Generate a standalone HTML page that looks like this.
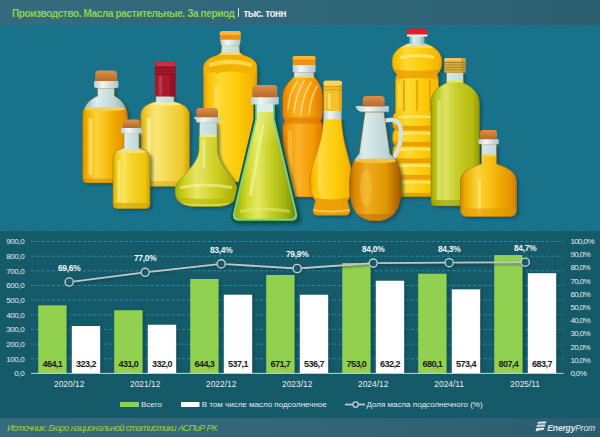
<!DOCTYPE html>
<html><head><meta charset="utf-8">
<style>
html,body{margin:0;padding:0;}
body{width:600px;height:437px;overflow:hidden;position:relative;font-family:"Liberation Sans",sans-serif;
background-color:#1a738c;
}
#hdr{position:absolute;left:0;top:0;width:600px;height:25px;background:linear-gradient(90deg,#346c7d,#2f6677 60%,#2a5f70);}
#hdr .t{position:absolute;left:12px;top:8px;font-size:10px;font-weight:bold;color:#8fd14f;letter-spacing:-0.38px;white-space:nowrap;}
#hdr .bar{position:absolute;left:238.3px;top:8.3px;width:1.2px;height:9.2px;background:#d4dee2;}
#hdr .u{position:absolute;left:243.5px;top:8px;font-size:10px;font-weight:bold;color:#e9eef0;letter-spacing:-0.55px;white-space:nowrap;}
#panel{position:absolute;left:0;top:231px;width:600px;height:187px;background:#155a69;}
#ftr{position:absolute;left:0;top:418px;width:600px;height:19px;background:linear-gradient(90deg,#356b7b,#2f6576 60%,#2a5e6e);}
#ftr .s{position:absolute;left:7px;top:4.5px;font-size:9px;font-style:italic;color:#a3cf3e;letter-spacing:-0.55px;white-space:nowrap;}
svg{position:absolute;left:0;top:0;}
</style></head><body>
<svg width="600" height="437" style="position:absolute;left:0;top:0"><defs><pattern id="stripes" x="0" y="0" width="3" height="3" patternUnits="userSpaceOnUse">
<rect width="3" height="3" fill="#1d7c95"/>
<rect x="0" y="0" width="1" height="1" fill="#15687e"/><rect x="1" y="1" width="1" height="1" fill="#15687e"/><rect x="2" y="2" width="1" height="1" fill="#15687e"/>
<rect x="1" y="0" width="1" height="1" fill="#19728b"/><rect x="2" y="1" width="1" height="1" fill="#19728b"/><rect x="0" y="2" width="1" height="1" fill="#19728b"/>
</pattern></defs><rect width="600" height="437" fill="url(#stripes)"/></svg>
<div id="hdr"><div class="t">Производство. Масла растительные. За период</div><div class="bar"></div><div class="u">тыс. тонн</div></div>

<svg id="bottles" width="600" height="231" viewBox="0 0 600 231">
<defs>
<filter id="sh" x="-20%" y="-20%" width="140%" height="140%"><feGaussianBlur stdDeviation="1.6"/></filter>
<linearGradient id="gGold" x1="0" x2="1" y1="0" y2="0">
<stop offset="0" stop-color="#d08800"/><stop offset="0.1" stop-color="#eeae00"/><stop offset="0.3" stop-color="#fcd23a"/><stop offset="0.5" stop-color="#f8c418"/><stop offset="0.7" stop-color="#f0aa00"/><stop offset="0.9" stop-color="#e49400"/><stop offset="1" stop-color="#c47800"/></linearGradient>
<linearGradient id="gYel" x1="0" x2="1" y1="0" y2="0">
<stop offset="0" stop-color="#d4a400"/><stop offset="0.1" stop-color="#eec810"/><stop offset="0.3" stop-color="#fbe45a"/><stop offset="0.5" stop-color="#f4d428"/><stop offset="0.85" stop-color="#ecc410"/><stop offset="1" stop-color="#c89800"/></linearGradient>
<linearGradient id="gPale" x1="0" x2="1" y1="0" y2="0">
<stop offset="0" stop-color="#d8a808"/><stop offset="0.12" stop-color="#eecb34"/><stop offset="0.3" stop-color="#fae676"/><stop offset="0.55" stop-color="#f4da52"/><stop offset="0.85" stop-color="#eec828"/><stop offset="1" stop-color="#cca000"/></linearGradient>
<linearGradient id="gBig" x1="0" x2="1" y1="0" y2="0">
<stop offset="0" stop-color="#e6a000"/><stop offset="0.1" stop-color="#f8c000"/><stop offset="0.3" stop-color="#ffd932"/><stop offset="0.65" stop-color="#fcca06"/><stop offset="0.9" stop-color="#f4b400"/><stop offset="1" stop-color="#de9400"/></linearGradient>
<linearGradient id="gOr" x1="0" x2="1" y1="0" y2="0">
<stop offset="0" stop-color="#e07a00"/><stop offset="0.15" stop-color="#f49a00"/><stop offset="0.4" stop-color="#fbb22a"/><stop offset="0.75" stop-color="#f49a00"/><stop offset="1" stop-color="#dc7400"/></linearGradient>
<linearGradient id="gGrn" x1="0" x2="1" y1="0" y2="0">
<stop offset="0" stop-color="#a8ac00"/><stop offset="0.15" stop-color="#cccc1c"/><stop offset="0.35" stop-color="#e6e666"/><stop offset="0.65" stop-color="#d0d024"/><stop offset="1" stop-color="#a4a400"/></linearGradient>
<linearGradient id="gFl" x1="0" x2="1" y1="0" y2="0">
<stop offset="0" stop-color="#9cb000"/><stop offset="0.2" stop-color="#cdd828"/><stop offset="0.38" stop-color="#e4ea62"/><stop offset="0.6" stop-color="#c6d024"/><stop offset="0.85" stop-color="#a0b010"/><stop offset="1" stop-color="#748c00"/></linearGradient>
<linearGradient id="gFlV" x1="0" x2="0" y1="0" y2="1">
<stop offset="0" stop-color="#f0f0a0" stop-opacity="0.55"/><stop offset="0.35" stop-color="#f0f0a0" stop-opacity="0"/><stop offset="1" stop-color="#f0f0a0" stop-opacity="0"/></linearGradient>
<linearGradient id="gOlive" x1="0" x2="1" y1="0" y2="0">
<stop offset="0" stop-color="#9aa200"/><stop offset="0.12" stop-color="#bcc41a"/><stop offset="0.3" stop-color="#dde362"/><stop offset="0.55" stop-color="#c6cc26"/><stop offset="0.85" stop-color="#b6bc12"/><stop offset="1" stop-color="#8e9600"/></linearGradient>
<linearGradient id="gAmb" x1="0" x2="1" y1="0" y2="0">
<stop offset="0" stop-color="#a85c00"/><stop offset="0.12" stop-color="#d88800"/><stop offset="0.35" stop-color="#f0ac20"/><stop offset="0.7" stop-color="#e09800"/><stop offset="1" stop-color="#a05400"/></linearGradient>
<linearGradient id="gGlass" x1="0" x2="1" y1="0" y2="0">
<stop offset="0" stop-color="#8cb4b8"/><stop offset="0.3" stop-color="#dcecec"/><stop offset="0.7" stop-color="#bed6d6"/><stop offset="1" stop-color="#84a8ae"/></linearGradient>
<linearGradient id="gCork" x1="0" x2="0" y1="0" y2="1">
<stop offset="0" stop-color="#dc9048"/><stop offset="1" stop-color="#b46a2a"/></linearGradient>
<linearGradient id="gCap" x1="0" x2="0" y1="0" y2="1">
<stop offset="0" stop-color="#ffb024"/><stop offset="1" stop-color="#ea8c00"/></linearGradient>
<linearGradient id="gLip" x1="0" x2="1" y1="0" y2="0">
<stop offset="0" stop-color="#b8cccc"/><stop offset="0.35" stop-color="#f2f6f6"/><stop offset="1" stop-color="#b0c4c4"/></linearGradient>

<path id="pA" d="M97.5,88 H114.5 V96 C121,99 127.5,106 127.5,117 V177.5 Q127.5,183 122,183 H88 Q82.5,183 82.5,177.5 V117 C82.5,106 90,99 97.5,96 Z"/>
<path id="pB" d="M124,133 H139 V148 C146,150 150,153 150,159 V204 Q150,208.5 145.5,208.5 H117.5 Q113,208.5 113,204 V159 C113,153 117,150 124,148 Z"/>
<path id="pC" d="M156,95 H174 V101.5 C183,104 189.5,108 189.5,115 V181 Q189.5,186.3 184,186.3 H146 Q140.8,186.3 140.8,181 V115 C140.8,108 147,104 156,101.5 Z"/>
<path id="pD" d="M222,45.5 H239 L239.5,52 Q241,54.5 244,55.5 C253,58 257,62 257,68 V178 Q257,182 253,182 H208 Q203.6,182 203.6,178 V68 C203.6,62 208,58 217,55.5 Q220,54.5 221.5,52 Z"/>
<path id="pE" d="M199.5,122 H217 L217.5,150 C218.5,168 237.5,178 237.5,191 C237.5,201 229,206 220,206.5 H194 Q175,206 175,191 C175,178 198,168 199,150 Z"/>
<path id="pF" d="M253.5,104 H276.5 V119 L299,214 Q300.5,223 292,223 H238 Q229.5,223 231,214 L253.5,119 Z"/>
<path id="pG" d="M294,72 H314 V77 C318,80 322.8,88 322.8,97 V112 Q322.8,118 320.5,121 Q322.8,124 322.8,130 V193 Q322.8,197 319,197 H286.5 Q282.5,197 282.5,193 V130 Q282.5,124 284.8,121 Q282.5,118 282.5,112 V97 C282.5,88 290,80 294,77 Z"/>
<path id="pH" d="M323.5,118.5 H341.5 C342.5,148 352.5,162 352.5,182 Q352.5,194 347.5,201 L350,210 Q350,215.3 345.5,215.3 H317.5 Q313,215.3 313,210 L315.5,201 Q310,194 310,182 C310,162 322.5,148 323.5,118.5 Z"/>
<path id="pI" d="M365,112 H384 L390,154 C398,159 401.5,171 401.5,187 Q401.5,221 375.5,221 Q349.5,221 349.5,187 C349.5,171 353,159 359,154 Z"/>
<path id="pJ" d="M410,43 H424 C436,47 442,53 442,62 Q442,70 437,74 Q438.5,77 438.5,81 L438.5,113 Q441.5,114 441.5,121.25 Q441.5,128.5 438.5,129.5 Q441.5,130.5 441.5,137.5 Q441.5,144.5 438.5,145.5 Q441.5,146.5 441.5,153.75 Q441.5,161 438.5,162 Q441.5,163 441.5,170.25 Q441.5,177.5 438.5,178.5 Q441.5,179.5 441.5,187.55 L441.5,192.6 Q441.5,196.6 437.5,196.6 H396.5 Q392.5,196.6 392.5,192.6 L392.5,187.55 Q392.5,179.5 395.5,178.5 Q392.5,177.5 392.5,170.25 Q392.5,163 395.5,162 Q392.5,161 392.5,153.75 Q392.5,146.5 395.5,145.5 Q392.5,144.5 392.5,137.5 Q392.5,130.5 395.5,129.5 Q392.5,128.5 392.5,121.25 Q392.5,114 395.5,113 L395.5,81 Q395.5,77 397,74 Q392,70 392,62 C392,53 398,47 410,43 Z"/>
<path id="pK" d="M446.5,72.5 H463.5 V83 C473,87 479.5,94 479.5,103 V201 Q479.5,206 474.5,206 H436 Q431,206 431,201 V103 C431,94 437,87 446.5,83 Z"/>
<path id="pL" d="M481.5,144 H496.5 V164 C508,168 516.5,172 516.5,182 V210 Q516.5,216.5 510,216.5 H467 Q460.5,216.5 460.5,210 V182 C460.5,172 469,168 481.5,164 Z"/>
<clipPath id="cA"><use href="#pA"/></clipPath>
<clipPath id="cB"><use href="#pB"/></clipPath>
<clipPath id="cC"><use href="#pC"/></clipPath>
<clipPath id="cD"><use href="#pD"/></clipPath>
<clipPath id="cE"><use href="#pE"/></clipPath>
<clipPath id="cF"><use href="#pF"/></clipPath>
<clipPath id="cG"><use href="#pG"/></clipPath>
<clipPath id="cH"><use href="#pH"/></clipPath>
<clipPath id="cI"><use href="#pI"/></clipPath>
<clipPath id="cJ"><use href="#pJ"/></clipPath>
<clipPath id="cK"><use href="#pK"/></clipPath>
<clipPath id="cL"><use href="#pL"/></clipPath>
</defs>

<!-- shadows back row -->
<g fill="#0a3a48" opacity="0.55" filter="url(#sh)" transform="translate(2.5,2)">
<use href="#pA"/><use href="#pC"/><use href="#pD"/><use href="#pG"/><use href="#pJ"/><use href="#pK"/>
</g>

<!-- A -->
<g clip-path="url(#cA)">
<rect x="83" y="86" width="45" height="100" fill="url(#gGlass)"/>
<rect x="82" y="108.5" width="46" height="80" fill="url(#gGold)"/>
<ellipse cx="105" cy="109" rx="20" ry="2" fill="#f8d050"/>
<rect rx="1.5" x="88.5" y="118" width="4" height="57" fill="#fff3a0" opacity="0.45"/>
<rect x="82" y="178.5" width="46" height="5" fill="#d89000" opacity="0.6"/>
</g>
<use href="#pA" fill="none" stroke="#9a6000" stroke-opacity="0.55" stroke-width="1"/>
<rect x="94" y="80.5" width="24.5" height="7.5" rx="2" fill="url(#gLip)"/>
<path d="M95.2,81 V74 Q95.2,70.5 99,70.5 H113.2 Q117,70.5 117,74 V81 Z" fill="url(#gCork)"/>

<!-- C -->
<g clip-path="url(#cC)">
<rect x="140" y="94" width="50" height="94" fill="url(#gGlass)"/>
<rect x="140" y="103.5" width="50" height="84" fill="url(#gPale)"/>
<ellipse cx="165" cy="104" rx="16" ry="1.6" fill="#faea88"/>
<rect rx="1.5" x="147" y="118" width="4" height="60" fill="#fffbd0" opacity="0.5"/>
<rect x="140" y="181" width="50" height="6" fill="#dcb010" opacity="0.6"/>
</g>
<use href="#pC" fill="none" stroke="#a07800" stroke-opacity="0.55" stroke-width="1"/>
<rect x="154.9" y="61.4" width="20.8" height="35.2" rx="1.5" fill="#a81a2e"/>
<rect x="154.9" y="61.4" width="20.8" height="4.5" rx="2" fill="#c63044"/>
<rect x="154.9" y="67.5" width="20.8" height="1" fill="#7a0c1c"/>
<rect x="154.9" y="70.5" width="20.8" height="1" fill="#7a0c1c"/>
<rect x="154.9" y="73.5" width="20.8" height="1" fill="#7a0c1c"/>
<rect rx="1.2" x="159" y="76" width="3" height="19" fill="#c84a5a" opacity="0.7"/>
<rect x="170" y="75" width="5.7" height="21.6" fill="#801020" opacity="0.6"/>

<!-- D -->
<g clip-path="url(#cD)">
<rect x="203" y="46" width="55" height="137" fill="url(#gBig)"/>
<rect x="203" y="44" width="55" height="10.5" fill="url(#gGlass)"/>
<rect x="203" y="52.5" width="55" height="2.5" fill="#f8d860"/>
<path d="M203,55 H258 V76 Q251,70 244,73.5 Q237,71 230.5,71.5 Q224,71 217,73.5 Q210,70 203,76 Z" fill="#f4b200"/>
<path d="M209,63 Q230,56 252,63 L252,67 Q230,61 209,67 Z" fill="#ffdc5a" opacity="0.85"/>
<rect rx="1.5" x="214" y="85" width="5" height="85" fill="#ffe470" opacity="0.5"/>
</g>
<use href="#pD" fill="none" stroke="#c08000" stroke-opacity="0.55" stroke-width="1"/>
<path d="M220,39.3 H240.8 L239.5,45.8 H221.5 Z" fill="url(#gLip)"/>
<path d="M219.8,39.6 V33.5 Q219.8,31 222.5,31 H238 Q240.7,31 240.7,33.5 V39.6 Z" fill="#f09010"/>
<path d="M219.8,35 V33.5 Q219.8,31 222.5,31 H238 Q240.7,31 240.7,33.5 V35 Z" fill="#ffb43a"/>

<!-- G -->
<g clip-path="url(#cG)">
<rect x="282" y="72" width="41" height="126" fill="url(#gOr)"/>
<rect x="282" y="71" width="41" height="6" fill="url(#gGlass)"/>
<rect x="282" y="76.5" width="41" height="1.5" fill="#ffc850"/>
<g stroke="#ffe4a8" stroke-width="1.7" fill="none" opacity="0.65" stroke-linecap="round">
<path d="M297,82 Q289,93 288,109"/><path d="M304,81 Q295,95 294,113"/><path d="M311,82 Q302,97 301,114"/><path d="M317,86 Q310,100 309,114"/>
</g>
<rect x="282" y="117.5" width="41" height="6" fill="#d87000" opacity="0.55"/>
<rect rx="1.5" x="288" y="130" width="4" height="60" fill="#ffd070" opacity="0.4"/>
</g>
<use href="#pG" fill="none" stroke="#b05800" stroke-opacity="0.55" stroke-width="1"/>
<rect x="292.7" y="64.4" width="22.8" height="7.8" fill="url(#gLip)"/>
<path d="M292.7,64.9 V58.4 Q292.7,55.9 295.2,55.9 H313 Q315.5,55.9 315.5,58.4 V64.9 Z" fill="#f09010"/>
<path d="M292.7,59.5 V58.4 Q292.7,55.9 295.2,55.9 H313 Q315.5,55.9 315.5,58.4 V59.5 Z" fill="#ffb436"/>

<!-- J -->
<g clip-path="url(#cJ)">
<rect x="390" y="47" width="54" height="151" fill="url(#gBig)"/>
<rect x="390" y="35" width="54" height="12" fill="url(#gGlass)"/>
<path d="M390,46 H444 V48 H390 Z" fill="#f8d860"/>
<path d="M390,68 Q417,74 444,68 V80 Q417,76 390,80 Z" fill="#e89a00" opacity="0.75"/>
<path d="M400,56 Q417,52 434,56 L434,59 Q417,55 400,59 Z" fill="#fff08a" opacity="0.7"/>
<path d="M390,124.5 Q417,127.5 444,124.5 V130.5 H390 Z" fill="#e89200" opacity="0.8"/>
<path d="M398,116 Q417,114.5 436,116 L436,118.5 Q417,117 398,118.5 Z" fill="#fff08a" opacity="0.7"/>
<path d="M390,140.5 Q417,143.5 444,140.5 V146.5 H390 Z" fill="#e89200" opacity="0.8"/>
<path d="M398,132.5 Q417,131.0 436,132.5 L436,135.0 Q417,133.5 398,135.0 Z" fill="#fff08a" opacity="0.7"/>
<path d="M390,157 Q417,160 444,157 V163 H390 Z" fill="#e89200" opacity="0.8"/>
<path d="M398,148.5 Q417,147.0 436,148.5 L436,151.0 Q417,149.5 398,151.0 Z" fill="#fff08a" opacity="0.7"/>
<path d="M390,173.5 Q417,176.5 444,173.5 V179.5 H390 Z" fill="#e89200" opacity="0.8"/>
<path d="M398,165 Q417,163.5 436,165 L436,167.5 Q417,166 398,167.5 Z" fill="#fff08a" opacity="0.7"/>
<path d="M390,191.6 Q417,194.6 444,191.6 V197.6 H390 Z" fill="#e89200" opacity="0.8"/>
<path d="M398,181.5 Q417,180.0 436,181.5 L436,184.0 Q417,182.5 398,184.0 Z" fill="#fff08a" opacity="0.7"/>
<g fill="#e08c00" opacity="0.6"><rect x="403" y="80" width="2" height="31"/><rect x="416" y="80" width="2" height="31"/><rect x="429" y="80" width="2" height="31"/></g>
<rect rx="1.5" x="398" y="84" width="3" height="24" fill="#ffe680" opacity="0.45"/>
</g>
<use href="#pJ" fill="none" stroke="#c08000" stroke-opacity="0.55" stroke-width="1"/>
<rect x="409.5" y="35.5" width="15" height="9" fill="url(#gGlass)"/>
<path d="M407,36 V31 Q407,28.4 409.5,28.4 H425 Q427.4,28.4 427.4,31 V36 Z" fill="#e01e2c"/>
<rect x="407" y="34.5" width="20.4" height="2" fill="#eef2f2"/>

<!-- K -->
<g clip-path="url(#cK)">
<rect x="430" y="72" width="50" height="136" fill="url(#gGlass)"/>
<rect x="430" y="81" width="50" height="127" fill="url(#gOlive)"/>
<ellipse cx="455" cy="81.3" rx="9" ry="1.2" fill="#e4e878"/>
<rect rx="1.5" x="437" y="100" width="4" height="100" fill="#f0f4a0" opacity="0.45"/>
<rect x="430" y="200" width="50" height="7" fill="#98a000" opacity="0.6"/>
</g>
<use href="#pK" fill="none" stroke="#6a7400" stroke-opacity="0.55" stroke-width="1"/>
<rect x="444.3" y="58" width="21.2" height="14.8" rx="1.5" fill="#d4ac44"/>
<rect x="444.3" y="58" width="21.2" height="3" rx="1.5" fill="#e8c868"/>
<rect x="444.3" y="62" width="21.2" height="0.8" fill="#a88020"/>
<rect x="444.3" y="64.5" width="21.2" height="0.8" fill="#a88020"/>
<rect x="444.3" y="67" width="21.2" height="0.8" fill="#a88020"/>
<rect x="444.3" y="69.5" width="21.2" height="0.8" fill="#a88020"/>
<rect x="461" y="58" width="4.5" height="14.8" fill="#a88020" opacity="0.5"/>

<!-- shadows front row -->
<g fill="#0a3a48" opacity="0.55" filter="url(#sh)" transform="translate(2.5,2)">
<use href="#pB"/><use href="#pE"/><use href="#pF"/><use href="#pH"/><use href="#pI"/><use href="#pL"/>
</g>

<!-- B -->
<g clip-path="url(#cB)">
<rect x="112" y="132" width="39" height="78" fill="url(#gGlass)"/>
<rect x="112" y="151" width="39" height="58" fill="url(#gYel)"/>
<ellipse cx="131.5" cy="151.5" rx="15" ry="1.6" fill="#f8e070"/>
<rect rx="1.5" x="117.5" y="160" width="3" height="42" fill="#fff6b0" opacity="0.5"/>
<rect x="112" y="203" width="39" height="6" fill="#d0a000" opacity="0.6"/>
</g>
<use href="#pB" fill="none" stroke="#a07800" stroke-opacity="0.55" stroke-width="1"/>
<rect x="121" y="127.5" width="21" height="6" rx="1.5" fill="url(#gLip)"/>
<path d="M123,128 V122.5 Q123,119.5 126,119.5 H137 Q140,119.5 140,122.5 V128 Z" fill="url(#gCork)"/>

<!-- E -->
<g clip-path="url(#cE)">
<rect x="174" y="121" width="64" height="87" fill="url(#gGlass)"/>
<rect x="174" y="135.5" width="64" height="72" fill="url(#gGrn)"/>
<ellipse cx="208.2" cy="135.8" rx="9" ry="1.3" fill="#eef080"/>
<path d="M180,186 Q206,181 232,186 L232,189 Q206,184 180,189 Z" fill="#f8f8b0" opacity="0.55"/>
<path d="M174,197 Q206,201 238,197 V208 H174 Z" fill="#b4b400" opacity="0.6"/>
<path d="M182,203 Q206,206 230,203 L230,204.5 Q206,207.5 182,204.5 Z" fill="#f0f090" opacity="0.6"/>
<rect rx="1.5" x="202.5" y="139" width="3" height="30" fill="#f8f8b0" opacity="0.5"/>
</g>
<use href="#pE" fill="none" stroke="#7a8000" stroke-opacity="0.55" stroke-width="1"/>
<path d="M193.5,117 H221 Q219,120 218,122.5 H197 Q196,120 193.5,117 Z" fill="url(#gLip)"/>
<path d="M196.3,117.2 V111 Q196.3,108 199.5,108 H214.8 Q218,108 218,111 V117.2 Z" fill="url(#gCork)"/>

<!-- F -->
<g>
<use href="#pF" fill="#175530"/>
<path d="M255.3,104 H274.7 V119.3 L297,213.5 Q298,220.8 291,220.8 H239 Q232,220.8 233,213.5 L255.3,119.3 Z" fill="#72d0a0"/>
<path d="M257,104 H273 V119.7 L295,213 Q295.8,218.8 290,218.8 H240 Q234.2,218.8 235,213 L257,119.7 Z" fill="url(#gFl)"/>
<path d="M257,104 H273 V119.7 L295,213 Q295.8,218.8 290,218.8 H240 Q234.2,218.8 235,213 L257,119.7 Z" fill="url(#gFlV)"/>
<path d="M257,104 H273 V112 H257 Z" fill="#dcece6"/>
<path d="M262,124 L264.5,124 L252,196 L248.5,196 Z" fill="#f4f8b0" opacity="0.55"/>
<path d="M240,210 Q265,205 290,210 L290,213 Q265,208 240,213 Z" fill="#e8f080" opacity="0.5"/>
</g>
<rect x="251" y="96.8" width="27.8" height="7.6" rx="1.5" fill="url(#gLip)"/>
<path d="M252.4,97.2 V88.5 Q252.4,85 256,85 H273.6 Q277.2,85 277.2,88.5 V97.2 Z" fill="url(#gCork)"/>

<!-- H -->
<g clip-path="url(#cH)">
<rect x="309" y="118" width="44" height="99" fill="url(#gBig)"/>
<path d="M309,196 Q331,203 353,196 V217 H309 Z" fill="#e89400" opacity="0.8"/>
<path d="M313,209 Q331,212 350,209 V211 Q331,214 313,211 Z" fill="#ffd870" opacity="0.7"/>
<rect rx="1.5" x="318" y="150" width="3.5" height="40" fill="#ffe680" opacity="0.45"/>
</g>
<use href="#pH" fill="none" stroke="#b87000" stroke-opacity="0.55" stroke-width="1"/>
<rect x="323.5" y="110" width="18" height="9.3" fill="url(#gLip)"/>
<rect x="323.6" y="80.7" width="18.2" height="30.3" rx="2" fill="#f4c228"/>
<rect x="323.6" y="80.7" width="18.2" height="4.8" rx="2" fill="#fcd65a"/>
<rect x="323.6" y="86.3" width="18.2" height="1" fill="#c89010" opacity="0.8"/>
<rect x="323.6" y="89.3" width="18.2" height="1" fill="#c89010" opacity="0.8"/>
<rect x="339" y="85" width="2.8" height="26" fill="#dc9810" opacity="0.6"/>
<rect rx="1.2" x="328" y="93" width="2.6" height="16" fill="#fde890" opacity="0.7"/>

<!-- I -->
<path d="M384,121 C398,117 403,124 400.5,140 C399,151 394,158 390,164" stroke="#d2e2e4" stroke-width="4.2" fill="none"/>
<g clip-path="url(#cI)">
<rect x="348" y="111" width="54" height="111" fill="url(#gGlass)"/>
<rect x="348" y="160" width="54" height="62" fill="url(#gAmb)"/>
<ellipse cx="375.5" cy="160.8" rx="21" ry="2.3" fill="#f6c040"/>
<ellipse cx="366" cy="188" rx="6" ry="18" fill="#f8c848" opacity="0.45"/>
<rect x="348" y="214" width="54" height="8" fill="#b86800" opacity="0.5"/>
</g>
<use href="#pI" fill="none" stroke="#8a4c00" stroke-opacity="0.55" stroke-width="1"/>
<path d="M355.7,106 H388.9 V111.7 H361 Q355.7,110 355.7,106 Z" fill="url(#gLip)"/>
<path d="M362.7,106.5 V99.5 Q362.7,96 366.5,96 H381 Q384.7,96 384.7,99.5 V106.5 Z" fill="url(#gCork)"/>

<!-- L -->
<g clip-path="url(#cL)">
<rect x="460" y="143" width="57" height="77" fill="url(#gGlass)"/>
<rect x="460" y="155" width="57" height="65" fill="url(#gGold)"/>
<ellipse cx="489" cy="155.3" rx="8" ry="1.3" fill="#f8d050"/>
<rect rx="1.5" x="478" y="178" width="3" height="36" fill="#fff0a0" opacity="0.5"/>
<rect x="460" y="208.5" width="57" height="9" fill="#e09800" opacity="0.6"/>
</g>
<use href="#pL" fill="none" stroke="#a06400" stroke-opacity="0.55" stroke-width="1"/>
<rect x="478.4" y="139" width="20.4" height="5.3" rx="1.5" fill="url(#gLip)"/>
<path d="M480,139.3 V133 Q480,130 483,130 H494 Q497,130 497,133 V139.3 Z" fill="url(#gCork)"/>
</svg>


<div id="panel"></div>

<svg id="chart" width="600" height="437" viewBox="0 0 600 437" style="font-family:'Liberation Sans',sans-serif">
<defs><filter id="blur" x="-20%" y="-20%" width="140%" height="140%"><feGaussianBlur stdDeviation="1"/></filter></defs>
<g stroke="#2789a2" stroke-width="1" stroke-dasharray="3.3 1.9">
<line x1="31" x2="563.5" y1="241.5" y2="241.5"/>
<line x1="31" x2="563.5" y1="256.2" y2="256.2"/>
<line x1="31" x2="563.5" y1="270.8" y2="270.8"/>
<line x1="31" x2="563.5" y1="285.5" y2="285.5"/>
<line x1="31" x2="563.5" y1="300.1" y2="300.1"/>
<line x1="31" x2="563.5" y1="314.8" y2="314.8"/>
<line x1="31" x2="563.5" y1="329.4" y2="329.4"/>
<line x1="31" x2="563.5" y1="344.1" y2="344.1"/>
<line x1="31" x2="563.5" y1="358.7" y2="358.7"/>
</g>
<g id="bars">
<rect x="40.20" y="306.38" width="28.4" height="67.02" fill="#0b3c48" opacity="0.45" filter="url(#blur)"/>
<rect x="73.80" y="327.03" width="28.4" height="46.37" fill="#0b3c48" opacity="0.45" filter="url(#blur)"/>
<rect x="38.20" y="305.38" width="28.4" height="68.02" fill="#92d050"/>
<rect x="71.80" y="326.03" width="28.4" height="47.37" fill="#ffffff"/>
<rect x="116.20" y="311.23" width="28.4" height="62.17" fill="#0b3c48" opacity="0.45" filter="url(#blur)"/>
<rect x="149.80" y="325.74" width="28.4" height="47.66" fill="#0b3c48" opacity="0.45" filter="url(#blur)"/>
<rect x="114.20" y="310.23" width="28.4" height="63.17" fill="#92d050"/>
<rect x="147.80" y="324.74" width="28.4" height="48.66" fill="#ffffff"/>
<rect x="192.20" y="279.96" width="28.4" height="93.44" fill="#0b3c48" opacity="0.45" filter="url(#blur)"/>
<rect x="225.80" y="295.68" width="28.4" height="77.72" fill="#0b3c48" opacity="0.45" filter="url(#blur)"/>
<rect x="190.20" y="278.96" width="28.4" height="94.44" fill="#92d050"/>
<rect x="223.80" y="294.68" width="28.4" height="78.72" fill="#ffffff"/>
<rect x="268.20" y="275.95" width="28.4" height="97.45" fill="#0b3c48" opacity="0.45" filter="url(#blur)"/>
<rect x="301.80" y="295.74" width="28.4" height="77.66" fill="#0b3c48" opacity="0.45" filter="url(#blur)"/>
<rect x="266.20" y="274.95" width="28.4" height="98.45" fill="#92d050"/>
<rect x="299.80" y="294.74" width="28.4" height="78.66" fill="#ffffff"/>
<rect x="344.20" y="264.03" width="28.4" height="109.37" fill="#0b3c48" opacity="0.45" filter="url(#blur)"/>
<rect x="377.80" y="281.74" width="28.4" height="91.66" fill="#0b3c48" opacity="0.45" filter="url(#blur)"/>
<rect x="342.20" y="263.03" width="28.4" height="110.37" fill="#92d050"/>
<rect x="375.80" y="280.74" width="28.4" height="92.66" fill="#ffffff"/>
<rect x="420.20" y="274.72" width="28.4" height="98.68" fill="#0b3c48" opacity="0.45" filter="url(#blur)"/>
<rect x="453.80" y="290.36" width="28.4" height="83.04" fill="#0b3c48" opacity="0.45" filter="url(#blur)"/>
<rect x="418.20" y="273.72" width="28.4" height="99.68" fill="#92d050"/>
<rect x="451.80" y="289.36" width="28.4" height="84.04" fill="#ffffff"/>
<rect x="496.20" y="256.06" width="28.4" height="117.34" fill="#0b3c48" opacity="0.45" filter="url(#blur)"/>
<rect x="529.80" y="274.19" width="28.4" height="99.21" fill="#0b3c48" opacity="0.45" filter="url(#blur)"/>
<rect x="494.20" y="255.06" width="28.4" height="118.34" fill="#92d050"/>
<rect x="527.80" y="273.19" width="28.4" height="100.21" fill="#ffffff"/>
</g>
<line x1="31" x2="563.5" y1="373.4" y2="373.4" stroke="#c9d3d6" stroke-width="1"/>
<g id="labels">
<path d="M69.20,282.02 L145.20,272.30 L221.20,263.90 L297.20,268.49 L373.20,263.11 L449.20,262.71 L525.20,262.19" stroke="#0b3640" stroke-width="2" fill="none" opacity="0.5" transform="translate(1,1.5)" filter="url(#blur)"/>
<path d="M69.20,282.02 L145.20,272.30 L221.20,263.90 L297.20,268.49 L373.20,263.11 L449.20,262.71 L525.20,262.19" stroke="#c3c7c7" stroke-width="1.8" fill="none"/>
<circle cx="70.00" cy="283.22" r="4.3" fill="#0b3640" opacity="0.5" filter="url(#blur)"/>
<circle cx="69.20" cy="282.02" r="4.1" fill="#155a69" stroke="#c8cccc" stroke-width="1.4"/>
<circle cx="146.00" cy="273.50" r="4.3" fill="#0b3640" opacity="0.5" filter="url(#blur)"/>
<circle cx="145.20" cy="272.30" r="4.1" fill="#155a69" stroke="#c8cccc" stroke-width="1.4"/>
<circle cx="222.00" cy="265.10" r="4.3" fill="#0b3640" opacity="0.5" filter="url(#blur)"/>
<circle cx="221.20" cy="263.90" r="4.1" fill="#155a69" stroke="#c8cccc" stroke-width="1.4"/>
<circle cx="298.00" cy="269.69" r="4.3" fill="#0b3640" opacity="0.5" filter="url(#blur)"/>
<circle cx="297.20" cy="268.49" r="4.1" fill="#155a69" stroke="#c8cccc" stroke-width="1.4"/>
<circle cx="374.00" cy="264.31" r="4.3" fill="#0b3640" opacity="0.5" filter="url(#blur)"/>
<circle cx="373.20" cy="263.11" r="4.1" fill="#155a69" stroke="#c8cccc" stroke-width="1.4"/>
<circle cx="450.00" cy="263.91" r="4.3" fill="#0b3640" opacity="0.5" filter="url(#blur)"/>
<circle cx="449.20" cy="262.71" r="4.1" fill="#155a69" stroke="#c8cccc" stroke-width="1.4"/>
<circle cx="526.00" cy="263.39" r="4.3" fill="#0b3640" opacity="0.5" filter="url(#blur)"/>
<circle cx="525.20" cy="262.19" r="4.1" fill="#155a69" stroke="#c8cccc" stroke-width="1.4"/>
<text x="69.20" y="270.82" text-anchor="middle" font-size="8.4" letter-spacing="-0.25" font-weight="bold" fill="#f2f6f6">69,6%</text>
<text x="145.20" y="261.10" text-anchor="middle" font-size="8.4" letter-spacing="-0.25" font-weight="bold" fill="#f2f6f6">77,0%</text>
<text x="221.20" y="252.70" text-anchor="middle" font-size="8.4" letter-spacing="-0.25" font-weight="bold" fill="#f2f6f6">83,4%</text>
<text x="297.20" y="257.29" text-anchor="middle" font-size="8.4" letter-spacing="-0.25" font-weight="bold" fill="#f2f6f6">79,9%</text>
<text x="373.20" y="251.91" text-anchor="middle" font-size="8.4" letter-spacing="-0.25" font-weight="bold" fill="#f2f6f6">84,0%</text>
<text x="449.20" y="251.51" text-anchor="middle" font-size="8.4" letter-spacing="-0.25" font-weight="bold" fill="#f2f6f6">84,3%</text>
<text x="525.20" y="250.99" text-anchor="middle" font-size="8.4" letter-spacing="-0.25" font-weight="bold" fill="#f2f6f6">84,7%</text>
<text x="52.40" y="366.8" text-anchor="middle" font-size="9" letter-spacing="-0.55" font-weight="bold" fill="#1b1b1b">464,1</text>
<text x="86.00" y="366.8" text-anchor="middle" font-size="9" letter-spacing="-0.55" font-weight="bold" fill="#1b1b1b">323,2</text>
<text x="69.20" y="386.8" text-anchor="middle" font-size="8.4" fill="#e6ecee">2020/12</text>
<text x="128.40" y="366.8" text-anchor="middle" font-size="9" letter-spacing="-0.55" font-weight="bold" fill="#1b1b1b">431,0</text>
<text x="162.00" y="366.8" text-anchor="middle" font-size="9" letter-spacing="-0.55" font-weight="bold" fill="#1b1b1b">332,0</text>
<text x="145.20" y="386.8" text-anchor="middle" font-size="8.4" fill="#e6ecee">2021/12</text>
<text x="204.40" y="366.8" text-anchor="middle" font-size="9" letter-spacing="-0.55" font-weight="bold" fill="#1b1b1b">644,3</text>
<text x="238.00" y="366.8" text-anchor="middle" font-size="9" letter-spacing="-0.55" font-weight="bold" fill="#1b1b1b">537,1</text>
<text x="221.20" y="386.8" text-anchor="middle" font-size="8.4" fill="#e6ecee">2022/12</text>
<text x="280.40" y="366.8" text-anchor="middle" font-size="9" letter-spacing="-0.55" font-weight="bold" fill="#1b1b1b">671,7</text>
<text x="314.00" y="366.8" text-anchor="middle" font-size="9" letter-spacing="-0.55" font-weight="bold" fill="#1b1b1b">536,7</text>
<text x="297.20" y="386.8" text-anchor="middle" font-size="8.4" fill="#e6ecee">2023/12</text>
<text x="356.40" y="366.8" text-anchor="middle" font-size="9" letter-spacing="-0.55" font-weight="bold" fill="#1b1b1b">753,0</text>
<text x="390.00" y="366.8" text-anchor="middle" font-size="9" letter-spacing="-0.55" font-weight="bold" fill="#1b1b1b">632,2</text>
<text x="373.20" y="386.8" text-anchor="middle" font-size="8.4" fill="#e6ecee">2024/12</text>
<text x="432.40" y="366.8" text-anchor="middle" font-size="9" letter-spacing="-0.55" font-weight="bold" fill="#1b1b1b">680,1</text>
<text x="466.00" y="366.8" text-anchor="middle" font-size="9" letter-spacing="-0.55" font-weight="bold" fill="#1b1b1b">573,4</text>
<text x="449.20" y="386.8" text-anchor="middle" font-size="8.4" fill="#e6ecee">2024/11</text>
<text x="508.40" y="366.8" text-anchor="middle" font-size="9" letter-spacing="-0.55" font-weight="bold" fill="#1b1b1b">807,4</text>
<text x="542.00" y="366.8" text-anchor="middle" font-size="9" letter-spacing="-0.55" font-weight="bold" fill="#1b1b1b">683,7</text>
<text x="525.20" y="386.8" text-anchor="middle" font-size="8.4" fill="#e6ecee">2025/11</text>
<text x="24.2" y="376.20" text-anchor="end" font-size="8" letter-spacing="-0.4" fill="#e6ecee">0,0</text>
<text x="24.2" y="361.54" text-anchor="end" font-size="8" letter-spacing="-0.4" fill="#e6ecee">100,0</text>
<text x="24.2" y="346.89" text-anchor="end" font-size="8" letter-spacing="-0.4" fill="#e6ecee">200,0</text>
<text x="24.2" y="332.23" text-anchor="end" font-size="8" letter-spacing="-0.4" fill="#e6ecee">300,0</text>
<text x="24.2" y="317.57" text-anchor="end" font-size="8" letter-spacing="-0.4" fill="#e6ecee">400,0</text>
<text x="24.2" y="302.92" text-anchor="end" font-size="8" letter-spacing="-0.4" fill="#e6ecee">500,0</text>
<text x="24.2" y="288.26" text-anchor="end" font-size="8" letter-spacing="-0.4" fill="#e6ecee">600,0</text>
<text x="24.2" y="273.60" text-anchor="end" font-size="8" letter-spacing="-0.4" fill="#e6ecee">700,0</text>
<text x="24.2" y="258.94" text-anchor="end" font-size="8" letter-spacing="-0.4" fill="#e6ecee">800,0</text>
<text x="24.2" y="244.29" text-anchor="end" font-size="8" letter-spacing="-0.4" fill="#e6ecee">900,0</text>
<text x="570.4" y="376.00" font-size="8" letter-spacing="-0.6" fill="#e6ecee">0,0%</text>
<text x="570.4" y="362.81" font-size="8" letter-spacing="-0.6" fill="#e6ecee">10,0%</text>
<text x="570.4" y="349.62" font-size="8" letter-spacing="-0.6" fill="#e6ecee">20,0%</text>
<text x="570.4" y="336.43" font-size="8" letter-spacing="-0.6" fill="#e6ecee">30,0%</text>
<text x="570.4" y="323.24" font-size="8" letter-spacing="-0.6" fill="#e6ecee">40,0%</text>
<text x="570.4" y="310.05" font-size="8" letter-spacing="-0.6" fill="#e6ecee">50,0%</text>
<text x="570.4" y="296.85" font-size="8" letter-spacing="-0.6" fill="#e6ecee">60,0%</text>
<text x="570.4" y="283.66" font-size="8" letter-spacing="-0.6" fill="#e6ecee">70,0%</text>
<text x="570.4" y="270.47" font-size="8" letter-spacing="-0.6" fill="#e6ecee">80,0%</text>
<text x="570.4" y="257.28" font-size="8" letter-spacing="-0.6" fill="#e6ecee">90,0%</text>
<text x="570.4" y="244.09" font-size="8" letter-spacing="-0.6" fill="#e6ecee">100,0%</text>
<rect x="120" y="402" width="19" height="5" fill="#92d050"/>
<text x="141" y="406.7" font-size="8" fill="#e6ecee">Всего</text>
<rect x="181" y="402" width="18.5" height="5" fill="#ffffff"/>
<text x="201.7" y="406.7" font-size="8" fill="#e6ecee">В том числе масло подсолнечное</text>
<line x1="345" x2="365" y1="404.5" y2="404.5" stroke="#c3c7c7" stroke-width="1.8"/>
<circle cx="355.6" cy="404.5" r="2.7" fill="#155a69" stroke="#c8cccc" stroke-width="1.3"/>
<text x="366.5" y="406.7" font-size="8" fill="#e6ecee">Доля масла подсолнечного (%)</text>
</g>
</svg>

<div id="ftr"><div class="s">Источник: Бюро национальной статистики АСПиР РК</div>
<svg width="600" height="19" viewBox="0 418 600 19" style="position:absolute;left:0;top:0">
<g fill="#dde4e6">
<path d="M538.2,421.8 Q542,421.2 546.5,421.6 L545.6,423.6 Q541,423.2 537.2,423.8 Z"/>
<path d="M537.2,424.8 Q541,424.2 545.4,424.6 L544.6,426.8 Q540,426.3 536.4,426.9 Z"/>
<path d="M536.3,428 Q540.5,427.4 544.4,427.8 L543.6,430 Q539.5,429.6 535.6,431.6 Z"/>
</g>
<text x="547.3" y="431.3" font-size="8.6" font-style="italic" fill="#dde4e6" letter-spacing="-0.2"><tspan font-weight="bold">Energy</tspan>Prom</text>
</svg></div>
</body></html>
